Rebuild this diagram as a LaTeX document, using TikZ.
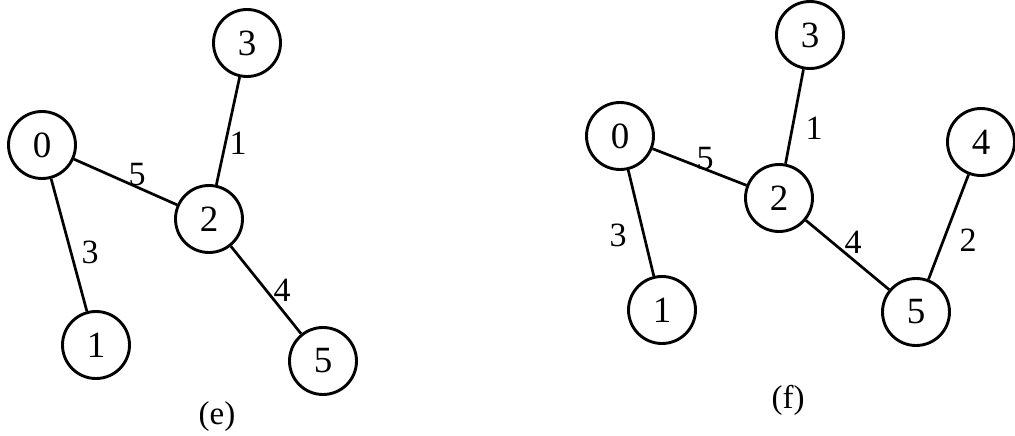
\documentclass[tikz,border=0pt]{standalone}
\usepackage{fontspec}
\setmainfont{Liberation Serif}
\begin{document}
\begin{tikzpicture}[x=1pt,y=-1pt,
  vert/.style={circle,draw=black,line width=2.9pt,minimum size=67pt,inner sep=0pt,font=\fontsize{37}{37}\selectfont},
  wlab/.style={inner sep=0pt,font=\fontsize{34}{34}\selectfont},
  figcaption/.style={inner sep=0pt,font=\fontsize{33}{33}\selectfont},
  conn/.style={line width=2.7pt}]
\useasboundingbox (0,0) rectangle (1015,436);
% graph (e)
\node[vert] (e0) at (42,145) {0};
\node[vert] (e3) at (247,43) {3};
\node[vert] (e2) at (209,219) {2};
\node[vert] (e1) at (96,345) {1};
\node[vert] (e5) at (323,361) {5};
\draw[conn] (e3) -- (e2);
\draw[conn] (e0) -- (e2);
\draw[conn] (e0) -- (e1);
\draw[conn] (e2) -- (e5);
\node[wlab] (le1) at (238,143) {1};
\node[wlab] (le5) at (137,175) {5};
\node[wlab] (le3) at (90,252) {3};
\node[wlab] (le4) at (282,290) {4};
\node[figcaption] (ce) at (217,417) {(e)};
% graph (f)
\node[vert] (f0) at (620,136) {0};
\node[vert] (f3) at (810,35) {3};
\node[vert] (f2) at (779,198) {2};
\node[vert] (f4) at (981,142) {4};
\node[vert] (f1) at (662,310) {1};
\node[vert] (f5) at (916,312) {5};
\draw[conn] (f3) -- (f2);
\draw[conn] (f0) -- (f2);
\draw[conn] (f0) -- (f1);
\draw[conn] (f2) -- (f5);
\draw[conn] (f4) -- (f5);
\node[wlab] (lf1) at (814,128) {1};
\node[wlab] (lf5) at (705,159) {5};
\node[wlab] (lf3) at (618,235) {3};
\node[wlab] (lf4) at (853,242) {4};
\node[wlab] (lf2) at (968,240) {2};
\node[figcaption] (cf) at (788,400) {(f)};
\end{tikzpicture}
\end{document}
